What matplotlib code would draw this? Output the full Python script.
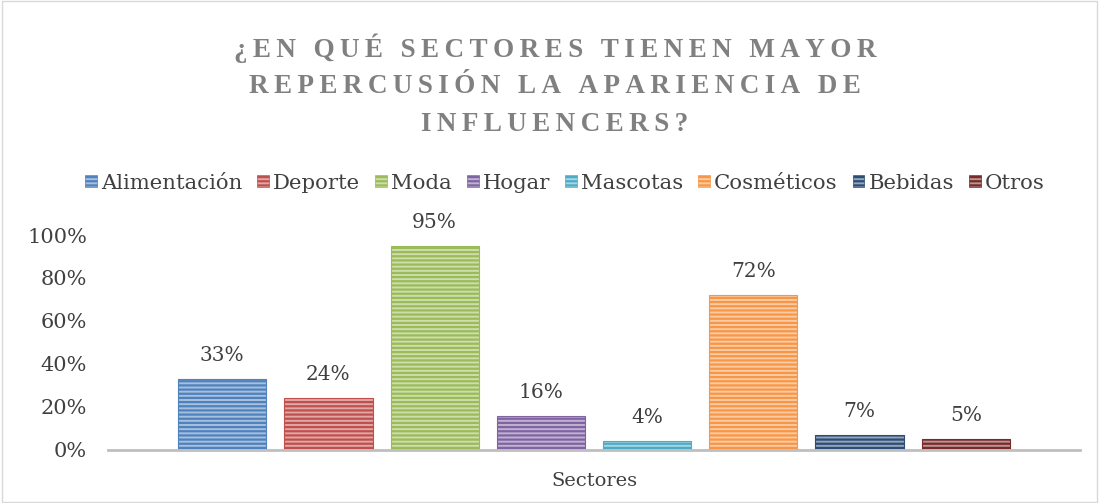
import matplotlib
matplotlib.use("Agg")
import matplotlib.pyplot as plt
from matplotlib.patches import Rectangle, Patch

categories = ["Alimentación", "Deporte", "Moda", "Hogar", "Mascotas", "Cosméticos", "Bebidas", "Otros"]
values = [0.33, 0.24, 0.95, 0.16, 0.04, 0.72, 0.07, 0.05]
labels = ["33%", "24%", "95%", "16%", "4%", "72%", "7%", "5%"]
yticks = [0, 0.2, 0.4, 0.6, 0.8, 1.0]
ytick_labels = ["0%", "20%", "40%", "60%", "80%", "100%"]
title_lines = ["¿EN QUÉ SECTORES TIENEN MAYOR", "REPERCUSIÓN LA APARIENCIA DE", "INFLUENCERS?"]
xlabel = "Sectores"

edge_colors = ["#4F81BD", "#C0504D", "#9BBB59", "#8064A2", "#4BACC6", "#F79646", "#2C4D75", "#772C2A"]
face_colors = ["#A7C0DE", "#E0A8A6", "#CDDDAC", "#C0B2D1", "#A5D6E3", "#FBCBA3", "#95A6BA", "#BB9594"]

plt.rcParams['font.family'] = ['DejaVu Serif', 'Liberation Serif']
plt.rcParams['hatch.linewidth'] = 1.6

fig = plt.figure(figsize=(10.99, 5.03), dpi=100)
fig.patches.append(Rectangle((0.002, 0.002), 0.996, 0.996, transform=fig.transFigure,
                             fill=False, edgecolor="#D9D9D9", linewidth=1))

ax = fig.add_axes([0.0983, 0.1054, 0.8844, 0.4274])
for i, v in enumerate(values):
    ax.bar(i, v, width=0.83, color=face_colors[i], edgecolor=edge_colors[i],
           hatch='----', linewidth=0.8)
    ax.text(i, v + 0.065, labels[i], ha='center', va='bottom', fontsize=14.5, color='#404040')

ax.set_xlim(-1.075, 8.075)
ax.set_ylim(0, 1.0)
ax.set_yticks(yticks)
ax.set_yticklabels(ytick_labels, fontsize=15, color='#404040')
ax.set_xticks([])
for s in ['top', 'right', 'left']:
    ax.spines[s].set_visible(False)
ax.spines['bottom'].set_color('#BFBFBF')
ax.spines['bottom'].set_linewidth(2)
ax.tick_params(axis='y', length=0, pad=15)
ax.set_xlabel(xlabel, fontsize=14, color='#404040', labelpad=16)

def spaced(s):
    return "\u2009".join(list(s))

title_y = [0.905, 0.828, 0.752]
for t, yy in zip(title_lines, title_y):
    fig.text(0.505, yy, spaced(t), ha='center', va='center', fontsize=19.5,
             fontweight='bold', color='#808080', family=['Liberation Serif', 'DejaVu Serif'])

handles = [Patch(facecolor=face_colors[i], edgecolor=edge_colors[i], hatch='----', linewidth=0.5)
           for i in range(len(categories))]
fig.legend(handles, categories, loc='center', bbox_to_anchor=(0.514, 0.636), ncol=8,
           frameon=False, fontsize=15.3, handlelength=0.55, handleheight=0.55,
           handletextpad=0.2, columnspacing=0.7, labelcolor='#404040')

fig.savefig("out.png", dpi=100)
